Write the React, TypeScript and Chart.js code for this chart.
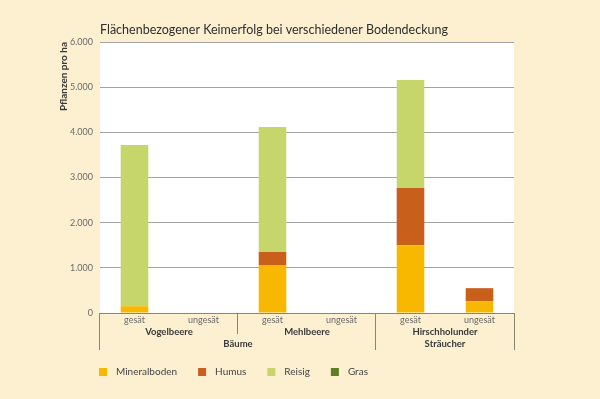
import React, { useEffect, useRef } from "react";
import { Chart, registerables } from "chart.js";

Chart.register(...registerables);

const categories = ["gesät", "ungesät", "gesät", "ungesät", "gesät", "ungesät"];
const species = ["Vogelbeere", "Mehlbeere", "Hirschholunder"];
const groups = [
  { label: "Bäume", from: 0, to: 3 },
  { label: "Sträucher", from: 4, to: 5 },
];
const mineralboden = [150, 0, 1050, 0, 1500, 260];
const humus = [0, 0, 300, 0, 1270, 290];
const reisig = [3570, 0, 2770, 0, 2390, 0];
const gras = [0, 0, 0, 0, 0, 0];
const yTicks = [0, 1000, 2000, 3000, 4000, 5000, 6000];

const BG = "#fdf0d0";
const FONT = "Lato, 'Open Sans', sans-serif";

const fmt = (v: number) => String(v).replace(/\B(?=(\d{3})+(?!\d))/g, ".");

const bgPlugin = {
  id: "plotBg",
  beforeDraw(chart: any) {
    const { ctx, chartArea } = chart;
    ctx.save();
    ctx.fillStyle = "#ffffff";
    ctx.fillRect(chartArea.left, chartArea.top, chartArea.right - chartArea.left, chartArea.bottom - chartArea.top);
    ctx.restore();
  },
};

const groupPlugin = {
  id: "groupLabels",
  afterDraw(chart: any) {
    const { ctx } = chart;
    const x = chart.scales.x;
    const base = x.top;
    const step = x.getPixelForValue(1) - x.getPixelForValue(0);
    const edge = (i: number) => x.getPixelForValue(i) - step / 2;
    ctx.save();
    ctx.strokeStyle = "#8c8474";
    ctx.lineWidth = 1;
    const vline = (px: number, len: number) => {
      const xx = Math.round(px) - 0.5;
      ctx.beginPath();
      ctx.moveTo(xx, base);
      ctx.lineTo(xx, base + len);
      ctx.stroke();
    };
    vline(edge(0), 37);
    vline(edge(4), 37);
    vline(edge(6) + 1, 37);
    vline(edge(2), 21);
    ctx.fillStyle = "#3a3a3a";
    ctx.textAlign = "center";
    ctx.textBaseline = "middle";
    ctx.font = `bold 9.5px ${FONT}`;
    species.forEach((s, i) => {
      const cx = (x.getPixelForValue(i * 2) + x.getPixelForValue(i * 2 + 1)) / 2;
      ctx.fillText(s, cx, base + 19);
    });
    groups.forEach((g) => {
      const cx = (edge(g.from) + edge(g.to + 1)) / 2;
      ctx.fillText(g.label, cx, base + 31);
    });

    // legend
    const ly = base + 59;
    let lx = chart.chartArea.left - 1;
    ctx.textAlign = "left";
    ctx.font = `10px ${FONT}`;
    chart.data.datasets.forEach((ds: any) => {
      ctx.fillStyle = ds.backgroundColor;
      ctx.fillRect(lx, ly - 4, 8, 8);
      ctx.fillStyle = "#444444";
      ctx.fillText(ds.label, lx + 17, ly);
      lx += 17 + ctx.measureText(ds.label).width + 21;
    });
    ctx.restore();
  },
};

export default function App() {
  const ref = useRef<HTMLCanvasElement | null>(null);
  useEffect(() => {
    document.body.style.margin = "0";
    const chart = new Chart(ref.current!, {
      type: "bar",
      data: {
        labels: categories,
        datasets: [
          { label: "Mineralboden", data: mineralboden, backgroundColor: "#f9b800" },
          { label: "Humus", data: humus, backgroundColor: "#c85f1a" },
          { label: "Reisig", data: reisig, backgroundColor: "#c6d66a" },
          { label: "Gras", data: gras, backgroundColor: "#5e7d24" },
        ],
      },
      options: {
        responsive: false,
        animation: false,
        layout: { padding: { top: 11, left: 58, right: 86, bottom: 44 } },
        datasets: { bar: { categoryPercentage: 1, barPercentage: 0.4 } },
        plugins: {
          title: {
            display: true,
            text: "Flächenbezogener Keimerfolg bei verschiedener Bodendeckung",
            align: "start",
            fullSize: false,
            color: "#2e2e2e",
            font: { family: FONT, size: 12.5, weight: "normal" },
            padding: { top: 11, bottom: 5 },
          },
          legend: { display: false },
          tooltip: { enabled: false },
        },
        scales: {
          x: {
            stacked: true,
            grid: { display: false, drawTicks: false },
            border: { display: true, color: "#8c8474", width: 1 },
            ticks: { color: "#6a6a6a", font: { family: FONT, size: 9 }, padding: 2, maxRotation: 0 },
            afterFit: (s: any) => { s.height = 42; },
          },
          y: {
            stacked: true,
            min: 0,
            max: 6000,
            afterBuildTicks: (s: any) => { s.ticks = yTicks.map((v) => ({ value: v })); },
            grid: { color: "#a3a3a3", lineWidth: 1, drawTicks: false },
            border: { display: false },
            ticks: {
              color: "#6a6a6a",
              font: { family: FONT, size: 9 },
              padding: 7,
              callback: (v: any) => fmt(Number(v)),
            },
            title: {
              display: true,
              text: "Pflanzen pro ha",
              align: "end",
              color: "#3a3a3a",
              font: { family: FONT, size: 10, weight: "bold" },
              padding: 0,
            },
            afterFit: (s: any) => { s.width = 42; },
          },
        },
      },
      plugins: [bgPlugin, groupPlugin],
    });
    return () => chart.destroy();
  }, []);
  return (
    <div style={{ position: "fixed", left: 0, top: 0, width: 600, height: 399, background: BG }}>
      <canvas ref={ref} width={600} height={399} style={{ display: "block" }} />
    </div>
  );
}
